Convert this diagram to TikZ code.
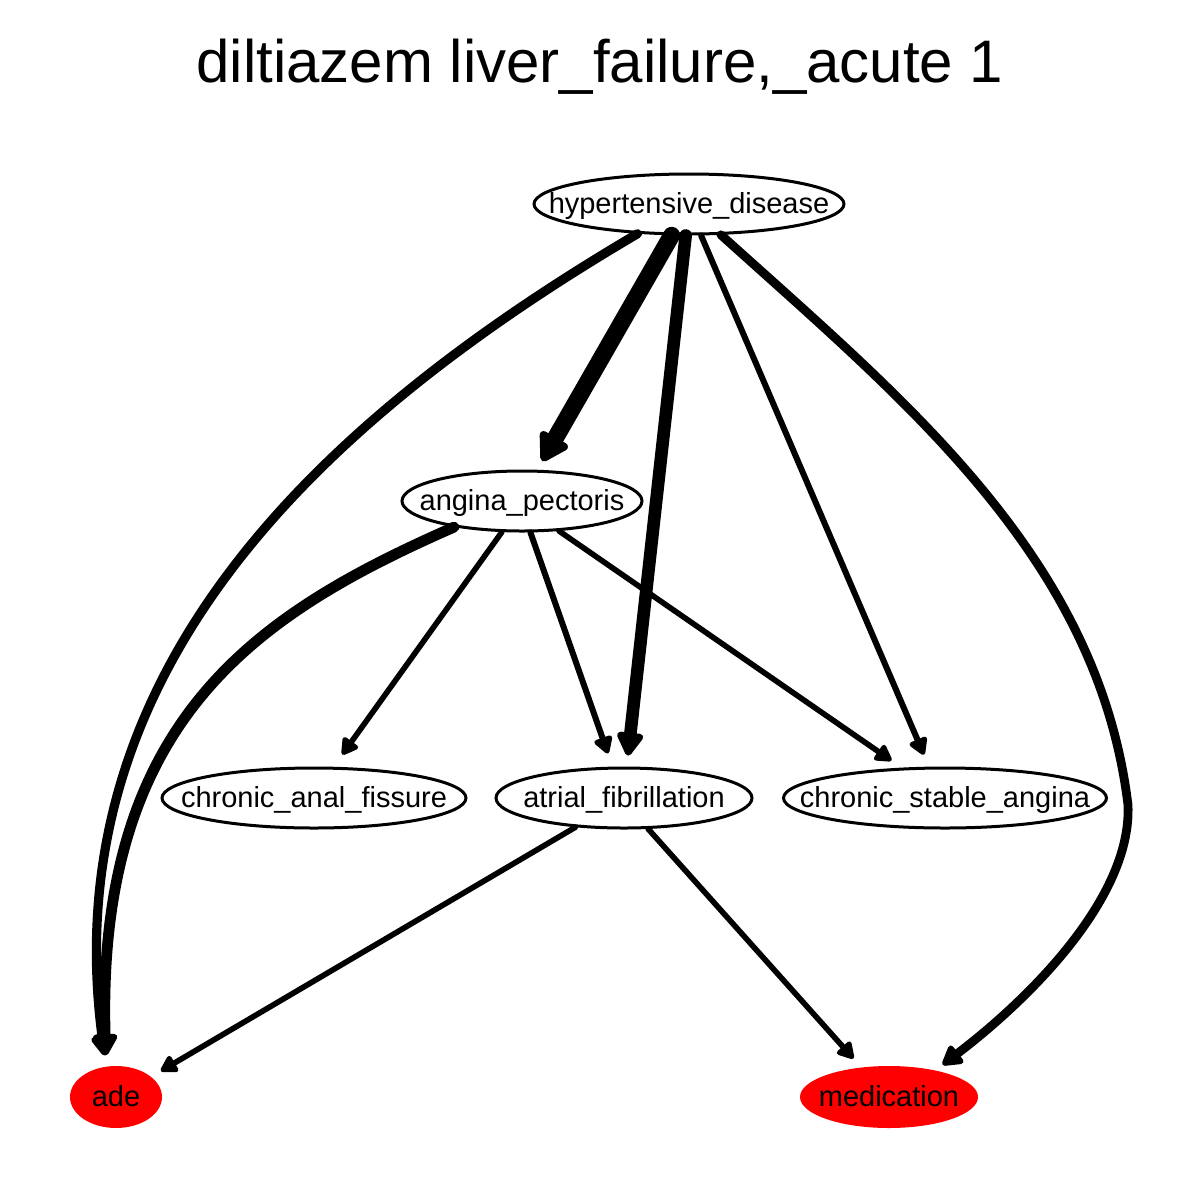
\documentclass[tikz,border=0pt]{standalone}
\usepackage{fontspec}
\setmainfont{Liberation Sans}
\usetikzlibrary{shapes.geometric,arrows.meta}
\begin{document}
\begin{tikzpicture}[x=0.5pt,y=-0.5pt,
  lbl/.style={font=\fontsize{14.5}{17}\selectfont, text height=11pt, text depth=2pt, inner sep=0pt},
  nd/.style={lbl, ellipse, draw=black, line width=1.5pt, minimum height=30pt},
  hit/.style={lbl, ellipse, fill=red, draw=none, minimum height=31pt},
  link/.style={draw=black, line cap=round,
    -{Triangle[length=6.3pt 1.1, width=6.5pt 1.3, round]}},
]
% canvas
\fill[white] (0,0) rectangle (1200,1200);
\useasboundingbox (0,0) rectangle (1200,1200);

% title
\node[anchor=base, font=\fontsize{30}{36}\selectfont, inner sep=0pt] (title) at (600,82)
  {diltiazem liver\_failure,\_acute 1};

% nodes
\node[nd, minimum width=155pt] (hyp) at (689,204) {\makebox[0pt]{hypertensive\_disease}};
\node[nd, minimum width=120pt] (ang) at (522,501) {\makebox[0pt]{angina\_pectoris}};
\node[nd, minimum width=152pt] (caf) at (314,798) {\makebox[0pt]{chronic\_anal\_fissure}};
\node[nd, minimum width=128pt] (af)  at (624,798) {\makebox[0pt]{atrial\_fibrillation}};
\node[nd, minimum width=161.5pt] (csa) at (945,798) {\makebox[0pt]{chronic\_stable\_angina}};
\node[hit, minimum width=46pt] (ade) at (116,1097) {\makebox[0pt]{ade}};
\node[hit, minimum width=89pt] (med) at (889,1097) {\makebox[0pt]{medication}};

% edges from hypertensive_disease
\draw[link, line width=8.5pt, shorten >=5pt] (hyp.241.8) -- (ang.64.5);
\draw[link, line width=6.3pt, shorten >=5.5pt] (hyp.264) -- (af.85);
\draw[link, line width=3pt, shorten >=6.5pt] (hyp.291.9) -- (csa.117.9);
\draw[link, line width=4.6pt, shorten >=5.5pt] (hyp.210.7)
  .. controls (314,424) and (54,674) .. (ade.108);
\draw[link, line width=4.4pt, shorten >=4.5pt] (hyp.316.5)
  .. controls (905,401) and (1098,557) .. (1128,805)
  .. controls (1132,900) and (1024,1003) .. (med.30.9);

% edges from angina_pectoris
\draw[link, line width=5.4pt, shorten >=5.5pt] (ang.201.6)
  .. controls (256,614) and (96,720) .. (ade.108);
\draw[link, line width=2.8pt, shorten >=7.5pt] (ang.237.3) -- (caf.58.3);
\draw[link, line width=3pt, shorten >=7pt] (ang.285) -- (af.110.9);
\draw[link, line width=2.8pt, shorten >=6.2pt] (ang.321.5) -- (csa.145.3);

% edges from atrial_fibrillation
\draw[link, line width=2.8pt, shorten >=5.5pt] (af.211.3) -- (ade.30.7);
\draw[link, line width=2.8pt, shorten >=5.8pt] (af.308) -- (med.133.8);
\end{tikzpicture}
\end{document}
